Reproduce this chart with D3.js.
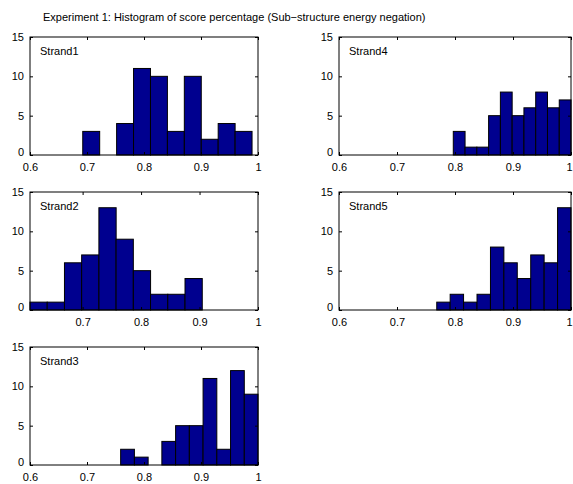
<!DOCTYPE html>
<html>
<head>
<meta charset="utf-8">
<script src="https://cdn.jsdelivr.net/npm/d3@7"></script>
<style>
  html, body { margin: 0; padding: 0; background: #fff; }
  svg { display: block; }
  text { font-family: "Liberation Sans", Arial, Helvetica, sans-serif; fill: #000; }
</style>
</head>
<body>
<svg id="chart" width="573" height="484"></svg>
<script>
// Histogram bins (centers) and counts for each strand
const strand1Centers = [0.7074, 0.7371, 0.7668, 0.7965, 0.8262, 0.8559, 0.8856, 0.9153, 0.9450, 0.9747];
const strand1Counts  = [3, 0, 4, 11, 10, 3, 10, 2, 4, 3];

const strand2Centers = [0.6247, 0.6542, 0.6837, 0.7131, 0.7426, 0.7720, 0.8015, 0.8309, 0.8604, 0.8899];
const strand2Counts  = [1, 1, 6, 7, 13, 9, 5, 2, 2, 4];

const strand3Centers = [0.7711, 0.7952, 0.8193, 0.8434, 0.8675, 0.8916, 0.9157, 0.9398, 0.9639, 0.9880];
const strand3Counts  = [2, 1, 0, 3, 5, 5, 11, 2, 12, 9];

const strand4Centers = [0.8072, 0.8275, 0.8478, 0.8681, 0.8884, 0.9087, 0.9290, 0.9493, 0.9696, 0.9899];
const strand4Counts  = [3, 1, 1, 5, 8, 5, 6, 8, 6, 7];

const strand5Centers = [0.7801, 0.8032, 0.8264, 0.8495, 0.8727, 0.8958, 0.9190, 0.9421, 0.9653, 0.9884];
const strand5Counts  = [1, 2, 1, 2, 8, 6, 4, 7, 6, 13];

const xTicks = [0.6, 0.7, 0.8, 0.9, 1];
const yTicks = [0, 5, 10, 15];
const titleText = "Experiment 1: Histogram of score percentage (Sub\u2212structure energy negation)";

// Panel table: name, data, x-limits, grid slot
const panels = [
  { name: "Strand1", centers: strand1Centers, counts: strand1Counts, xmin: 0.6,  col: 0, row: 0 },
  { name: "Strand2", centers: strand2Centers, counts: strand2Counts, xmin: 0.61, col: 0, row: 1 },
  { name: "Strand3", centers: strand3Centers, counts: strand3Counts, xmin: 0.6,  col: 0, row: 2 },
  { name: "Strand4", centers: strand4Centers, counts: strand4Counts, xmin: 0.6,  col: 1, row: 0 },
  { name: "Strand5", centers: strand5Centers, counts: strand5Counts, xmin: 0.6,  col: 1, row: 1 }
];

const colX = [[30, 258], [339, 571]];
const rowTop = [37, 192, 347];
const plotH = 118;
const barFill = "#00008f";
const fontSize = 11;
const tickLen = 3;
const svgW = 573;

const svg = d3.select("#chart");

svg.append("text")
  .attr("x", 43).attr("y", 21)
  .attr("font-size", 11)
  .text(titleText);

panels.forEach(p => {
  const [x0, x1] = colX[p.col];
  const y0 = rowTop[p.row], y1 = y0 + plotH;

  const x = d3.scaleLinear().domain([p.xmin, 1]).range([x0, x1]);
  const y = d3.scaleLinear().domain([0, 15]).range([y1, y0]);

  const g = svg.append("g");
  const w = p.centers[1] - p.centers[0];

  // bars
  g.selectAll("rect.bar")
    .data(p.centers.map((c, i) => ({ c, n: p.counts[i] })))
    .join("rect")
    .attr("class", "bar")
    .attr("x", d => x(d.c - w / 2))
    .attr("width", d => x(d.c + w / 2) - x(d.c - w / 2))
    .attr("y", d => y(d.n))
    .attr("height", d => y(0) - y(d.n))
    .attr("fill", barFill)
    .attr("stroke", "#000")
    .attr("stroke-width", 1);

  // x ticks (inward, bottom and top) and labels
  const xt = xTicks.filter(t => t >= p.xmin - 1e-9);
  const xAxisB = d3.axisBottom(x).tickValues(xt).tickSizeInner(-tickLen).tickSizeOuter(0)
    .tickPadding(tickLen + 5).tickFormat(d3.format("~g"));
  const gb = g.append("g").attr("transform", `translate(0,${y1})`).call(xAxisB);
  const xAxisT = d3.axisTop(x).tickValues(xt).tickSizeInner(-tickLen).tickSizeOuter(0).tickFormat("");
  const gt = g.append("g").attr("transform", `translate(0,${y0})`).call(xAxisT);

  // y ticks (inward, left and right) and labels
  const yAxisL = d3.axisLeft(y).tickValues(yTicks).tickSizeInner(-tickLen).tickSizeOuter(0)
    .tickPadding(tickLen + 3);
  const gl = g.append("g").attr("transform", `translate(${x0},0)`).call(yAxisL);
  const yAxisR = d3.axisRight(y).tickValues(yTicks).tickSizeInner(-tickLen).tickSizeOuter(0).tickFormat("");
  const gr = g.append("g").attr("transform", `translate(${x1},0)`).call(yAxisR);

  [gb, gt, gl, gr].forEach(a => {
    a.select(".domain").remove();
    a.selectAll("line").attr("stroke", "#000");
    a.selectAll("text").attr("font-size", fontSize)
      .attr("font-family", "'Liberation Sans', Arial, sans-serif").attr("fill", "#000");
  });

  // keep the last x label inside the drawing area near the right edge
  if (x1 > svgW - 6) {
    gb.selectAll(".tick").filter(d => d === 1).select("text").attr("dx", -2);
  }

  // lift the zero label so it clears the x tick labels
  gl.selectAll(".tick").filter(d => d === 0).select("text").attr("dy", "0.05em");

  // box
  g.append("rect")
    .attr("x", x0).attr("y", y0)
    .attr("width", x1 - x0).attr("height", plotH)
    .attr("fill", "none").attr("stroke", "#000").attr("stroke-width", 1);

  g.append("text")
    .attr("x", x0 + 10).attr("y", y0 + 18)
    .attr("font-size", fontSize)
    .text(p.name);
});
</script>
</body>
</html>
